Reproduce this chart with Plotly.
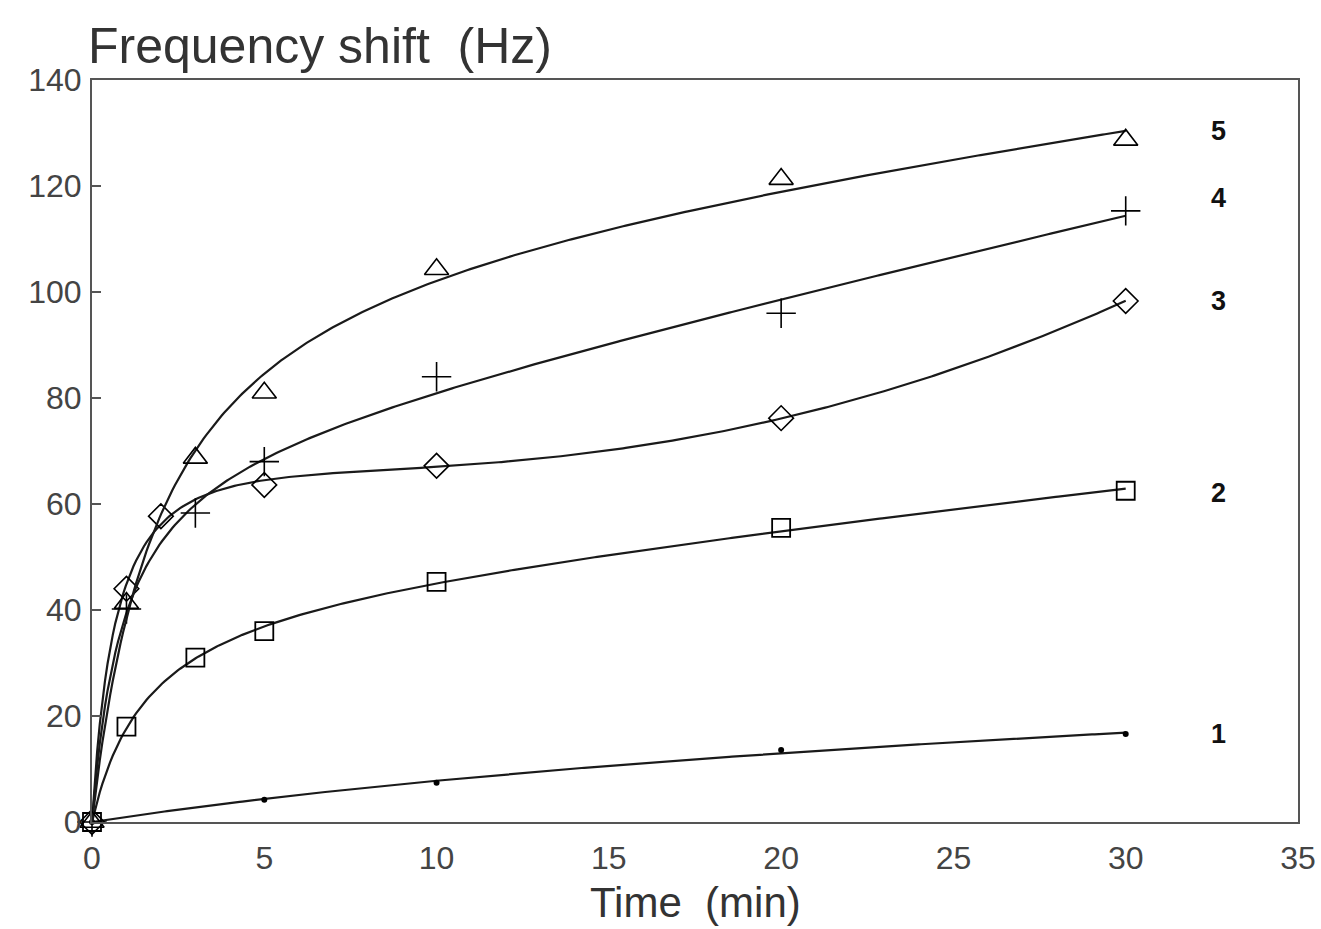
import numpy as np
import plotly.graph_objects as go

# Measured frequency shift (Hz) versus time (min) for five runs
t1 = [0, 5, 10, 20, 30]
f1 = [0, 4.2, 7.4, 13.6, 16.6]

t2 = [0, 1, 3, 5, 10, 20, 30]
f2 = [0, 18, 31, 36, 45.3, 55.5, 62.5]

t3 = [0, 1, 2, 5, 10, 20, 30]
f3 = [0, 44, 57.7, 63.6, 67.2, 76.2, 98.3]

t4 = [0, 1, 3, 5, 10, 20, 30]
f4 = [0, 40.2, 58.3, 68, 84, 96, 115.3]

t5 = [0, 1, 3, 5, 10, 20, 30]
f5 = [0, 41.3, 68.7, 81, 104.3, 121.3, 128.7]

series_labels = ["1", "2", "3", "4", "5"]
label_x = 32.7
label_y = [16.6, 62, 98.3, 117.7, 130.4]

x_ticks = [0, 5, 10, 15, 20, 25, 30, 35]
y_ticks = [0, 20, 40, 60, 80, 100, 120, 140]

FONT = "Liberation Sans, Arial, sans-serif"


def fitted_curve(x, y, quadratic=False):
    """Least-squares fit of a*x/(b+x) + c*x (+ d*x^2) with b scanned."""
    x = np.asarray(x, float)
    y = np.asarray(y, float)

    def basis(v, b):
        cols = [v / (b + v), v]
        if quadratic:
            cols.append(v ** 2)
        return np.column_stack(cols)

    best = None
    for b in np.linspace(0.2, 30, 600):
        A = basis(x, b)
        coef, *_ = np.linalg.lstsq(A, y, rcond=None)
        err = np.sum((A @ coef - y) ** 2)
        if best is None or err < best[0]:
            best = (err, b, coef)
    _, b, coef = best
    xs = np.linspace(0, x.max(), 400)
    return xs, basis(xs, b) @ coef


series = [
    (t1, f1, False, dict(symbol="circle", size=6, color="black")),
    (t2, f2, False, dict(symbol="square-open", size=18, color="black", line=dict(width=1.8))),
    (t3, f3, True, dict(symbol="diamond-open", size=19, color="black", line=dict(width=1.6))),
    (t4, f4, False, dict(symbol="cross-thin-open", size=21, color="black", line=dict(width=1.6))),
    (t5, f5, False, dict(symbol="triangle-up-open", size=21, color="black", line=dict(width=1.6))),
]

fig = go.Figure()
for t, f, quad, marker in series:
    xs, ys = fitted_curve(t, f, quad)
    fig.add_trace(go.Scatter(x=xs, y=ys, mode="lines",
                             line=dict(color="#1a1a1a", width=2.2),
                             showlegend=False, hoverinfo="skip"))
    fig.add_trace(go.Scatter(x=t, y=f, mode="markers", marker=marker,
                             showlegend=False, cliponaxis=False))

for lab, ly in zip(series_labels, label_y):
    fig.add_annotation(x=label_x, y=ly, xref="x", yref="y", text=f"<b>{lab}</b>",
                       showarrow=False, font=dict(size=27, color="#111", family=FONT))

# Axis titles placed as free text: y title above the frame, x title below the ticks
fig.add_annotation(x=0, y=1.0, xref="paper", yref="paper", xanchor="left", yanchor="bottom",
                   xshift=-6, yshift=4, text="Frequency shift  (Hz)", showarrow=False,
                   font=dict(size=50, color="#333", family=FONT))
fig.add_annotation(x=0.5, y=0, xref="paper", yref="paper", xanchor="center", yanchor="middle",
                   yshift=-80, text="Time  (min)", showarrow=False,
                   font=dict(size=42, color="#333", family=FONT))

fig.update_layout(
    width=1321, height=929,
    margin=dict(l=92, r=23, t=80, b=107),
    paper_bgcolor="white", plot_bgcolor="white",
    font=dict(family=FONT, color="#444", size=32),
    xaxis=dict(range=[0, 35], tickvals=x_ticks, showgrid=False, zeroline=False,
               showline=True, linecolor="#555", linewidth=2, mirror=True,
               ticks="", ticklabelstandoff=7, automargin=False),
    yaxis=dict(range=[0, 140], tickvals=y_ticks, showgrid=False, zeroline=False,
               showline=True, linecolor="#555", linewidth=2, mirror=True,
               ticks="inside", ticklen=9, tickcolor="#555", tickwidth=1.5,
               ticklabelstandoff=2, automargin=False),
)

fig.write_html("out.html")
